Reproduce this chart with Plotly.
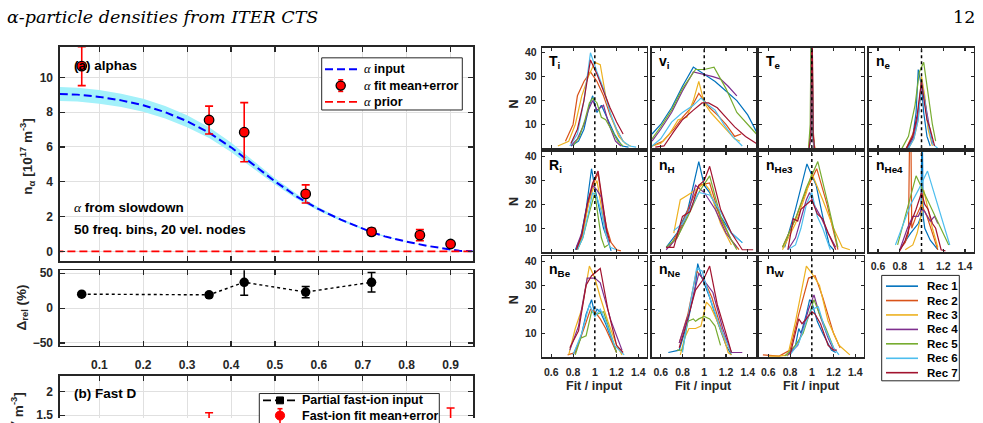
import plotly.graph_objects as go

# ---------------- data ----------------
RHO_TICKS = [0.1, 0.2, 0.3, 0.4, 0.5, 0.6, 0.7, 0.8, 0.9]
NA_TICKS = [0, 2, 4, 6, 8, 10]
DREL_TICKS = [-50, 0, 50]
FD_TICKS = [1.5, 2]
HIST_XTICKS = [0.6, 0.8, 1.0, 1.2, 1.4]
HIST_XTICKTEXT = ['0.6', '0.8', '1', '1.2', '1.4']
HIST_YTICKS = [10, 20, 30, 40]

ALPHA_RHO = [0.01, 0.05, 0.10, 0.15, 0.20, 0.25, 0.30, 0.35, 0.40, 0.43, 0.45, 0.50,
             0.55, 0.57, 0.60, 0.65, 0.70, 0.72, 0.75, 0.80, 0.85, 0.90, 0.92, 0.95]
ALPHA_IN = [9.05, 9.01, 8.88, 8.68, 8.40, 8.00, 7.48, 6.82, 5.98, 5.38, 4.98, 4.02,
            3.15, 2.84, 2.42, 1.82, 1.30, 1.10, 0.86, 0.55, 0.30, 0.10, 0.03, 0.00]
BAND_HI = [9.45, 9.41, 9.27, 9.06, 8.77, 8.36, 7.82, 7.13, 6.25, 5.62, 5.20, 4.20,
           3.29, 2.96, 2.52, 1.89, 1.35, 1.14, 0.89, 0.57, 0.31, 0.11, 0.03, 0.00]
BAND_LO = [8.65, 8.61, 8.49, 8.30, 8.03, 7.64, 7.14, 6.51, 5.71, 5.14, 4.76, 3.84,
           3.01, 2.72, 2.32, 1.75, 1.25, 1.06, 0.83, 0.53, 0.29, 0.09, 0.03, 0.00]
PRIOR_RHO = [0.0, 1.0]
PRIOR_N = [0.0, 0.0]
FIT_RHO = [0.06, 0.35, 0.43, 0.57, 0.72, 0.83, 0.90]
FIT_N = [10.65, 7.55, 6.85, 3.30, 1.12, 0.93, 0.42]
FIT_ERR = [1.12, 0.80, 1.70, 0.52, 0.20, 0.32, 0.09]

DREL_RHO = [0.06, 0.35, 0.43, 0.57, 0.72]
DREL = [20, 19, 37, 23, 37]
DREL_ERR = [1.5, 3, 18.5, 8, 14]

FD_RHO = [0.06, 0.35, 0.43, 0.57, 0.72, 0.83, 0.90]
FD_FIT = [0.90, 1.15, 1.00, 0.80, 0.55, 0.50, 1.25]
FD_ERR = [0.20, 0.40, 0.35, 0.20, 0.15, 0.20, 0.40]
FD_INPUT = [1.00, 0.95, 0.90, 0.80, 0.60, 0.45, 0.35]

REC_NAMES = ['Rec 1', 'Rec 2', 'Rec 3', 'Rec 4', 'Rec 5', 'Rec 6', 'Rec 7']
REC_COLORS = ['#0072BD', '#D95319', '#EDB120', '#7E2F8E', '#77AC30', '#4DBEEE', '#A2142F']

TI_X = [[0.78, 0.85, 0.90, 0.95, 0.98, 1.02, 1.06, 1.12, 1.18, 1.25, 1.31],
        [0.73, 0.80, 0.84, 0.90, 0.96, 1.02, 1.08, 1.14, 1.20, 1.26],
        [0.66, 0.76, 0.82, 0.88, 0.94, 1.00, 1.05, 1.10, 1.16, 1.22, 1.28, 1.33],
        [0.78, 0.84, 0.90, 0.94, 0.98, 1.02, 1.05, 1.08, 1.13, 1.19, 1.24],
        [0.80, 0.86, 0.91, 0.95, 0.98, 1.02, 1.06, 1.10, 1.15, 1.21, 1.26],
        [0.77, 0.84, 0.90, 0.96, 1.02, 1.08, 1.14, 1.20, 1.26, 1.32, 1.38],
        [0.78, 0.84, 0.90, 0.96, 1.02, 1.08, 1.14, 1.20, 1.26]]
TI_N = [[1, 3, 8, 18, 22, 15, 18, 12, 6, 1, 0.5],
        [3, 10, 22, 28, 32, 28, 22, 14, 8, 3],
        [1, 3, 10, 22, 30, 36, 35, 22, 12, 5, 2, 1],
        [1, 4, 10, 16, 20, 16, 17, 18, 10, 3, 1],
        [1, 5, 12, 19, 21, 19, 13, 12, 8, 3, 1],
        [1, 6, 20, 40, 32, 25, 15, 8, 3, 1, 0.5],
        [2, 8, 20, 37, 31, 24, 17, 11, 6]]

VI_X = [[0.52, 0.60, 0.70, 0.80, 0.90, 1.00, 1.10, 1.20, 1.30, 1.40, 1.48],
        [0.52, 0.62, 0.72, 0.80, 0.88, 0.95, 1.00, 1.05, 1.12, 1.20, 1.28, 1.34],
        [0.52, 0.60, 0.68, 0.76, 0.84, 0.90, 0.95, 1.00, 1.06, 1.12, 1.20, 1.28, 1.33],
        [0.52, 0.60, 0.70, 0.80, 0.90, 1.00, 1.08, 1.15, 1.22, 1.30],
        [0.52, 0.60, 0.70, 0.80, 0.92, 1.00, 1.09, 1.20, 1.30, 1.40, 1.48],
        [0.52, 0.60, 0.70, 0.80, 0.90, 0.97, 1.04, 1.10, 1.18, 1.26, 1.35],
        [0.55, 0.63, 0.72, 0.80, 0.90, 0.98, 1.04, 1.12, 1.20, 1.28, 1.38, 1.48]]
VI_N = [[6, 10, 17, 26, 34, 31, 28, 24, 20, 14, 7],
        [1, 3, 8, 13, 17, 23, 20, 17, 14, 10, 5, 6],
        [1, 2, 6, 12, 13, 20, 28, 19, 15, 12, 8, 4, 3],
        [3, 8, 15, 24, 32, 31, 30, 29, 26, 22],
        [4, 9, 16, 25, 33, 33, 34, 25, 15, 10, 6],
        [1, 4, 11, 15, 18, 21, 18, 16, 10, 5, 1],
        [0.5, 1, 7, 12, 16, 19, 19, 17, 13, 9, 5, 2]]

TE_X = [[0.975, 0.990, 1.000, 1.010, 1.025],
        [0.975, 0.990, 1.000, 1.012, 1.025],
        [0.970, 0.990, 1.000, 1.010, 1.030],
        [0.975, 0.992, 1.000, 1.010, 1.020],
        [0.970, 0.985, 0.995, 1.008, 1.025],
        [0.975, 0.990, 1.000, 1.010, 1.025],
        [0.975, 0.990, 1.002, 1.012, 1.025]]
TE_N = [[0, 6, 70, 6, 0],
        [0, 5, 65, 8, 0],
        [0, 7, 60, 5, 0],
        [0, 6, 62, 4, 0],
        [0, 10, 60, 6, 0],
        [0, 4, 55, 5, 0],
        [0, 5, 58, 6, 0]]

NE_X = [[0.87, 0.92, 0.95, 0.97, 1.00, 1.02, 1.05, 1.08],
        [0.86, 0.92, 0.96, 1.00, 1.03, 1.06, 1.10],
        [0.88, 0.93, 0.97, 1.00, 1.03, 1.06, 1.10],
        [0.88, 0.93, 0.97, 1.00, 1.03, 1.07, 1.10],
        [0.82, 0.88, 0.94, 0.98, 1.02, 1.06, 1.10, 1.13],
        [0.88, 0.93, 0.97, 1.00, 1.03, 1.06, 1.10, 1.15],
        [0.86, 0.92, 0.96, 1.00, 1.03, 1.05, 1.08, 1.12]]
NE_N = [[0, 5, 15, 33, 26, 15, 5, 1],
        [0, 6, 12, 27, 20, 10, 2],
        [0, 4, 12, 30, 22, 8, 1],
        [0, 5, 14, 26, 20, 10, 2],
        [0, 5, 18, 32, 36, 22, 10, 3],
        [0, 4, 12, 28, 20, 10, 2, 0],
        [0, 5, 14, 28, 18, 12, 8, 1]]

RI_X = [[0.82, 0.87, 0.92, 0.97, 1.00, 1.04, 1.08, 1.12, 1.15],
        [0.83, 0.88, 0.93, 0.98, 1.03, 1.07, 1.11, 1.15, 1.20, 1.24],
        [0.84, 0.89, 0.94, 0.98, 1.02, 1.06, 1.10, 1.14],
        [0.83, 0.88, 0.93, 0.98, 1.02, 1.06, 1.10, 1.13],
        [0.84, 0.89, 0.94, 0.98, 1.00, 1.03, 1.06, 1.09, 1.12],
        [0.84, 0.89, 0.94, 0.98, 1.02, 1.06, 1.10, 1.14, 1.20],
        [0.83, 0.88, 0.93, 0.98, 1.03, 1.07, 1.11, 1.14]]
RI_N = [[1, 6, 18, 35, 27, 18, 10, 5, 0.5],
        [1, 6, 18, 28, 33, 20, 10, 4, 1, 0.5],
        [1, 8, 20, 26, 30, 18, 8, 2],
        [2, 8, 20, 28, 26, 23, 10, 3],
        [1, 6, 15, 22, 25, 15, 6, 2, 3],
        [1, 6, 16, 25, 23, 17, 8, 2, 1],
        [1, 7, 20, 29, 34, 21, 9, 4]]

NH_X = [[0.65, 0.75, 0.85, 0.95, 1.00, 1.05, 1.15, 1.25, 1.35],
        [0.68, 0.78, 0.87, 0.95, 1.05, 1.15, 1.25, 1.32],
        [0.72, 0.78, 0.85, 0.95, 1.00, 1.05, 1.15, 1.25],
        [0.65, 0.75, 0.85, 0.92, 1.00, 1.10, 1.20, 1.30],
        [0.65, 0.75, 0.85, 0.95, 1.05, 1.15, 1.25, 1.30],
        [0.72, 0.80, 0.87, 0.95, 1.05, 1.15, 1.25, 1.35],
        [0.65, 0.72, 0.80, 0.87, 0.95, 1.00, 1.05, 1.15, 1.25, 1.35, 1.45]]
NH_N = [[2, 8, 18, 38, 28, 25, 15, 8, 4],
        [2, 10, 20, 28, 29, 14, 5, 1],
        [8, 22, 24, 27, 29, 26, 12, 3],
        [1, 6, 16, 28, 25, 18, 8, 2],
        [2, 6, 15, 25, 32, 15, 5, 1],
        [9, 12, 18, 25, 24, 17, 8, 4],
        [2, 2, 15, 17, 28, 30, 36, 18, 8, 1, 1]]

NHE3_X = [[0.75, 0.85, 0.955, 1.04, 1.10, 1.16, 1.20],
          [0.73, 0.85, 0.95, 1.045, 1.14, 1.24],
          [0.73, 0.85, 0.95, 1.00, 1.10, 1.20, 1.28, 1.35],
          [0.78, 0.85, 0.90, 0.95, 0.98, 1.02, 1.08, 1.15, 1.22],
          [0.73, 0.85, 0.95, 1.055, 1.15, 1.24],
          [0.78, 0.85, 0.90, 0.95, 1.00, 1.05, 1.10, 1.17],
          [0.78, 0.83, 0.87, 0.90, 0.95, 1.00, 1.05, 1.10, 1.15, 1.22]]
NHE3_N = [[2, 18, 37, 28, 15, 3, 1],
          [2, 14, 26, 35, 20, 1],
          [1, 12, 25, 33, 22, 10, 2, 1],
          [1, 6, 14, 22, 25, 20, 15, 8, 2],
          [2, 14, 27, 38, 20, 2],
          [1, 3, 10, 20, 25, 15, 10, 1],
          [1, 14, 13, 18, 20, 22, 16, 14, 8, 1]]

NHE4_X = [[0.80, 0.90, 0.97, 0.995, 1.005, 1.015, 1.03, 1.08, 1.15],
          [0.80, 0.85, 0.88, 0.893, 0.90, 0.91, 0.95, 1.00, 1.05, 1.10, 1.15],
          [0.85, 0.92, 0.96, 1.00, 1.02, 1.05, 1.10, 1.15],
          [0.80, 0.87, 0.92, 0.97, 1.00, 1.03, 1.08, 1.12, 1.15],
          [0.78, 0.95, 1.25],
          [0.76, 0.90, 0.97, 1.055, 1.26],
          [0.80, 0.85, 0.90, 0.95, 1.00, 1.03, 1.06, 1.10, 1.13, 1.18, 1.22]]
NHE4_N = [[1, 8, 12, 15, 60, 15, 10, 5, 1],
          [1, 4, 8, 60, 60, 10, 15, 20, 15, 8, 1],
          [1, 3, 8, 16, 26, 20, 10, 2],
          [1, 10, 15, 15, 18, 17, 13, 15, 12],
          [3, 32, 3],
          [3, 20, 26, 34, 3],
          [0.5, 5, 12, 18, 25, 20, 18, 12, 10, 1, 0.5]]

NBE_X = [[0.80, 0.87, 0.92, 0.97, 1.00, 1.02, 1.05, 1.10, 1.20],
         [0.75, 0.82, 0.90, 0.96, 1.00, 1.05, 1.10, 1.20],
         [0.76, 0.82, 0.88, 0.95, 1.00, 1.05, 1.12, 1.20, 1.25],
         [0.77, 0.85, 0.93, 1.00, 1.05, 1.15, 1.25],
         [0.82, 0.87, 0.92, 0.97, 1.02, 1.08, 1.13, 1.20],
         [0.80, 0.88, 0.95, 1.00, 1.05, 1.10, 1.18, 1.27],
         [0.77, 0.85, 0.92, 0.97, 1.05, 1.12, 1.20, 1.26]]
NBE_N = [[1, 8, 18, 24, 18, 20, 19, 14, 2],
         [1, 2, 12, 20, 19, 16, 12, 2],
         [1, 12, 20, 38, 33, 25, 15, 5, 1],
         [3, 13, 33, 33, 31, 15, 3],
         [1, 8, 9, 19, 18, 19, 12, 2],
         [1, 10, 22, 17, 20, 15, 5, 1],
         [4, 11, 30, 34, 37, 20, 5, 2]]

NNE_X = [[0.67, 0.77, 0.85, 0.92, 0.94, 0.98, 1.05, 1.12, 1.20, 1.25],
         [0.77, 0.85, 0.93, 1.00, 1.07, 1.17, 1.25],
         [0.78, 0.82, 0.86, 0.92, 0.97, 1.02, 1.06, 1.12, 1.18, 1.22, 1.25],
         [0.77, 0.87, 0.95, 1.00, 1.08, 1.17, 1.25, 1.35],
         [0.75, 0.80, 0.85, 0.90, 0.92, 0.95, 1.00, 1.05, 1.10, 1.15],
         [0.80, 0.87, 0.93, 0.98, 1.05, 1.15, 1.25],
         [0.77, 0.83, 0.92, 1.00, 1.05, 1.12, 1.20, 1.25]]
NNE_N = [[2, 3, 15, 30, 39, 33, 25, 15, 5, 1],
         [6, 18, 36, 32, 25, 10, 2],
         [1, 8, 12, 12, 13, 23, 21, 15, 8, 2, 1],
         [6, 20, 35, 32, 27, 12, 2, 2],
         [3, 3, 15, 16, 15, 16, 17, 16, 13, 5],
         [2, 22, 37, 36, 25, 12, 2],
         [4, 13, 28, 33, 38, 22, 10, 2]]

NW_X = [[0.77, 0.85, 0.88, 0.90, 0.95, 0.98, 1.00, 1.05, 1.10, 1.18, 1.22],
        [0.55, 0.70, 0.80, 0.88, 0.97, 1.03, 1.10, 1.20, 1.26],
        [0.60, 0.70, 0.78, 0.85, 0.95, 1.00, 1.07, 1.15, 1.25, 1.35],
        [0.78, 0.87, 0.92, 0.97, 1.02, 1.07, 1.15, 1.20],
        [0.75, 0.85, 0.92, 0.97, 1.02, 1.07, 1.13, 1.20],
        [0.80, 0.88, 0.95, 1.00, 1.06, 1.12, 1.20, 1.25],
        [0.80, 0.88, 0.91, 0.95, 1.00, 1.03, 1.08, 1.15, 1.20, 1.23]]
NW_N = [[0.5, 5, 12, 10, 18, 24, 23, 15, 10, 3, 2],
        [1, 0.5, 3, 18, 33, 34, 25, 10, 4],
        [0.5, 0.5, 1, 15, 38, 35, 30, 15, 5, 1],
        [1, 5, 12, 20, 26, 18, 8, 3],
        [0.5, 5, 10, 17, 24, 18, 12, 4],
        [1, 6, 15, 20, 21, 12, 4, 1],
        [1, 16, 14, 16, 19, 18, 14, 5, 3, 3]]

PANEL_LABELS = ['T<sub>i</sub>', 'v<sub>i</sub>', 'T<sub>e</sub>', 'n<sub>e</sub>',
                'R<sub>i</sub>', 'n<sub>H</sub>', 'n<sub>He3</sub>', 'n<sub>He4</sub>',
                'n<sub>Be</sub>', 'n<sub>Ne</sub>', 'n<sub>W</sub>']
PANEL_X = [TI_X, VI_X, TE_X, NE_X, RI_X, NH_X, NHE3_X, NHE4_X, NBE_X, NNE_X, NW_X]
PANEL_N = [TI_N, VI_N, TE_N, NE_N, RI_N, NH_N, NHE3_N, NHE4_N, NBE_N, NNE_N, NW_N]

# ---------------- geometry helpers (pixels -> paper) ----------------
W, H = 983, 423
def PX(x):
    return x / W
def PY(y):
    return 1 - y / H

DARK = '#262626'
GRID = '#e0e0e0'
FONT = 'Liberation Sans'
SERIF = 'DejaVu Serif'
ALPHA_SPAN = '<span style="font-family:Liberation Serif;font-style:italic;font-weight:normal">α</span>'

fig = go.Figure()
layout = {}


def axis(**kw):
    d = dict(showline=True, linecolor=DARK, linewidth=1.6, ticks='inside', tickcolor=DARK,
             tickwidth=1.1, ticklen=5, zeroline=False, showgrid=False, mirror='ticks',
             tickfont=dict(family=FONT, size=12, color=DARK, weight='bold'))
    d.update(kw)
    return d

# (a) alphas
layout['xaxis'] = axis(domain=[PX(60), PX(473)], range=[0.0105, 0.951], tickvals=RHO_TICKS,
                       showticklabels=False, showgrid=True, gridcolor=GRID, anchor='y')
layout['yaxis'] = axis(domain=[PY(263), PY(44)], range=[-0.58, 11.745], tickvals=NA_TICKS,
                       showgrid=True, gridcolor=GRID, anchor='x', ticklabelstandoff=3)
# delta rel
layout['xaxis2'] = axis(domain=[PX(60), PX(473)], range=[0.0105, 0.951], tickvals=RHO_TICKS,
                        showgrid=True, gridcolor=GRID, anchor='y2', ticklabelstandoff=7)
layout['yaxis2'] = axis(domain=[PY(349), PY(272)], range=[-53.7, 54.3], tickvals=DREL_TICKS,
                        showgrid=True, gridcolor=GRID, anchor='x2', ticklabelstandoff=3)
# (b) fast D (cut by page edge)
layout['xaxis3'] = axis(domain=[PX(60), PX(473)], range=[0.0105, 0.951], tickvals=RHO_TICKS,
                        showticklabels=False, showgrid=True, gridcolor=GRID, anchor='y3',
                        side='top', mirror=False)
layout['yaxis3'] = axis(domain=[0, PY(380)], range=[1.4375, 2.333], tickvals=FD_TICKS,
                        showgrid=True, gridcolor=GRID, anchor='x3', ticklabelstandoff=3)

# band + curves
fig.add_trace(go.Scatter(x=ALPHA_RHO, y=BAND_HI, mode='lines', line=dict(width=0),
                         hoverinfo='skip', xaxis='x', yaxis='y'))
fig.add_trace(go.Scatter(x=ALPHA_RHO, y=BAND_LO, mode='lines', line=dict(width=0),
                         fill='tonexty', fillcolor='#A3F1FA', hoverinfo='skip', xaxis='x', yaxis='y'))
fig.add_trace(go.Scatter(x=ALPHA_RHO, y=ALPHA_IN, mode='lines',
                         line=dict(color='#0000FF', width=2, dash='8px,4px'), xaxis='x', yaxis='y'))
fig.add_trace(go.Scatter(x=PRIOR_RHO, y=PRIOR_N, mode='lines',
                         line=dict(color='#FF0000', width=1.8, dash='8px,4px'), xaxis='x', yaxis='y'))
fig.add_trace(go.Scatter(x=FIT_RHO, y=FIT_N, mode='markers',
                         marker=dict(color='#FF0000', size=9.5, line=dict(color='black', width=1.3)),
                         error_y=dict(type='data', array=FIT_ERR, color='#FF0000', thickness=1.6, width=4),
                         xaxis='x', yaxis='y'))
fig.add_trace(go.Scatter(x=DREL_RHO, y=DREL, mode='lines+markers',
                         line=dict(color='black', width=1.4, dash='dot'),
                         marker=dict(color='black', size=9.5),
                         error_y=dict(type='data', array=DREL_ERR, color='black', thickness=1.5, width=4),
                         xaxis='x2', yaxis='y2'))
fig.add_trace(go.Scatter(x=FD_RHO, y=FD_INPUT, mode='lines+markers',
                         line=dict(color='black', width=1.6, dash='8px,4px'),
                         marker=dict(color='black', size=7, symbol='square'),
                         xaxis='x3', yaxis='y3'))
fig.add_trace(go.Scatter(x=FD_RHO, y=FD_FIT, mode='markers',
                         marker=dict(color='#FF0000', size=9.5, line=dict(color='#FF0000', width=1)),
                         error_y=dict(type='data', array=FD_ERR, color='#FF0000', thickness=1.6, width=4),
                         xaxis='x3', yaxis='y3'))

# histogram grid
COL_L = [542.3, 651.7, 759.3, 869.0]
COL_W = 104.5
ROW_T = [44.7, 151.0, 257.7]
ROW_B = [147.5, 253.5, 361.0]
annotations = []
shapes = []

for k in range(11):
    r, c = divmod(k, 4)
    ax = k + 4
    xs = 'x%d' % ax
    ys = 'y%d' % ax
    show_x = (r == 2) or (k == 7)
    show_y = (c == 0)
    layout['xaxis%d' % ax] = axis(domain=[PX(COL_L[c]), PX(COL_L[c] + COL_W)], range=[0.517, 1.478],
                                  tickvals=HIST_XTICKS, ticktext=HIST_XTICKTEXT, showticklabels=show_x,
                                  ticklen=3, anchor=ys, ticklabelstandoff=4,
                                  tickfont=dict(family=FONT, size=10.5, color=DARK, weight='bold'))
    layout['yaxis%d' % ax] = axis(domain=[PY(ROW_B[r]), PY(ROW_T[r])], range=[0, 42.1],
                                  tickvals=HIST_YTICKS, showticklabels=show_y, ticklen=3, anchor=xs,
                                  ticklabelstandoff=2,
                                  tickfont=dict(family=FONT, size=10.5, color=DARK, weight='bold'))
    for j in range(7):
        fig.add_trace(go.Scatter(x=PANEL_X[k][j], y=PANEL_N[k][j], mode='lines',
                                 line=dict(color=REC_COLORS[j], width=1.2), xaxis=xs, yaxis=ys))
    fig.add_trace(go.Scatter(x=[1, 1], y=[0, 42.1], mode='lines',
                             line=dict(color='black', width=1.5, dash='dot'), xaxis=xs, yaxis=ys))
    annotations.append(dict(x=PX(COL_L[c] + 5), y=PY(ROW_T[r] + 3), xref='paper', yref='paper',
                            xanchor='left', yanchor='top', showarrow=False, text=PANEL_LABELS[k],
                            font=dict(family=FONT, size=14, color='black', weight='bold')))
    if show_x and r == 2:
        annotations.append(dict(x=PX(COL_L[c] + COL_W / 2), y=PY(390), xref='paper', yref='paper',
                                xanchor='center', yanchor='middle', showarrow=False, text='Fit / input',
                                font=dict(family=FONT, size=12.5, color=DARK, weight='bold')))
for r in range(3):
    annotations.append(dict(x=PX(514), y=PY((ROW_T[r] + ROW_B[r]) / 2), xref='paper', yref='paper',
                            textangle=-90, showarrow=False, text='N',
                            font=dict(family=FONT, size=12.5, color=DARK, weight='bold')))


def txt(x, y, s, size=12.5, anchor='left', color='black', family=FONT, weight='bold', angle=0):
    annotations.append(dict(x=PX(x), y=PY(y), xref='paper', yref='paper', xanchor=anchor,
                            yanchor='middle', showarrow=False, text=s, textangle=angle,
                            font=dict(family=family, size=size, color=color, weight=weight)))


def seg(x0, y0, x1, y1, color, width, dash='solid'):
    shapes.append(dict(type='line', xref='paper', yref='paper', x0=PX(x0), y0=PY(y0), x1=PX(x1),
                       y1=PY(y1), line=dict(color=color, width=width, dash=dash), layer='above'))


def box(x0, y0, x1, y1, lw=1.0):
    shapes.append(dict(type='rect', xref='paper', yref='paper', x0=PX(x0), y0=PY(y1), x1=PX(x1),
                       y1=PY(y0), fillcolor='white', line=dict(color=DARK, width=lw), layer='above'))


def dot(cx, cy, r, fill, edge, lw=1.2, kind='circle'):
    shapes.append(dict(type=kind, xref='paper', yref='paper', x0=PX(cx - r), x1=PX(cx + r),
                       y0=PY(cy + r), y1=PY(cy - r), fillcolor=fill, line=dict(color=edge, width=lw),
                       layer='above'))

# header
txt(5, 13, '<i>α-particle densities from ITER CTS</i>', size=17.5, family=SERIF, weight='normal')
txt(977, 13, '12', size=17.5, anchor='right', family=SERIF, weight='normal')

# left panel texts
txt(72, 63, '(a) alphas', size=13.5)
txt(72, 208, ALPHA_SPAN + ' from slowdown', size=13.5)
txt(72, 230, '50 freq. bins, 20 vel. nodes', size=13.5)
txt(72, 398, '(b) Fast D', size=13.5)
txt(27, 156, 'n<sub>α</sub> [10<sup>17</sup> m<sup>-3</sup>]', size=13.5, anchor='center', color=DARK, angle=-90)
txt(22, 310, 'Δ<sub>rel</sub> (%)', size=13.5, anchor='center', color=DARK, angle=-90)
txt(18, 436, 'n<sub>D</sub> [10<sup>17</sup> m<sup>-3</sup>]', size=13.5, anchor='center', color=DARK, angle=-90)

# legend (a)
box(321.7, 55, 462.3, 108.3)
seg(325, 66.7, 357, 66.7, '#0000FF', 2, '8px,4px')
txt(361.7, 66.7, ALPHA_SPAN + ' input', size=12.5)
seg(340.7, 77.5, 340.7, 89.3, '#FF0000', 1.6)
seg(338.2, 77.5, 343.2, 77.5, '#FF0000', 1.6)
seg(338.2, 89.3, 343.2, 89.3, '#FF0000', 1.6)
dot(340.7, 83.3, 4.6, '#FF0000', 'black', 1.3)
txt(361.7, 83.3, ALPHA_SPAN + ' fit mean+error', size=12.5)
seg(325, 100, 357, 100, '#FF0000', 1.8, '8px,4px')
txt(361.7, 100, ALPHA_SPAN + ' prior', size=12.5)

# legend (b)
box(259.3, 398, 439.3, 470)
seg(263, 405, 297, 405, 'black', 1.6, '8px,4px')
dot(280, 405, 3.5, 'black', 'black', 1, 'rect')
txt(300, 405, 'Partial fast-ion input', size=12.5)
seg(280, 413.5, 280, 428, '#FF0000', 1.6)
seg(277.5, 413.5, 282.5, 413.5, '#FF0000', 1.6)
dot(280, 420.5, 4.6, '#FF0000', '#FF0000', 1)
txt(300, 420.5, 'Fast-ion fit mean+error', size=12.5)

# legend Rec
box(881.7, 277.3, 959.3, 385)
REC_Y = [288.3, 303.0, 317.7, 332.5, 347.2, 362.0, 376.7]
for j in range(7):
    seg(886, REC_Y[j], 918, REC_Y[j], REC_COLORS[j], 1.6)
    txt(925, REC_Y[j], REC_NAMES[j], size=11.5)

layout.update(width=W, height=H, margin=dict(l=0, r=0, t=0, b=0), showlegend=False,
              paper_bgcolor='white', plot_bgcolor='white', annotations=annotations, shapes=shapes,
              font=dict(family=FONT, color=DARK))
fig.update_layout(**layout)

fig.write_html("out.html", config={'displayModeBar': False, 'staticPlot': True},
               post_script="document.body.style.margin='0';document.body.style.overflow='hidden';")
